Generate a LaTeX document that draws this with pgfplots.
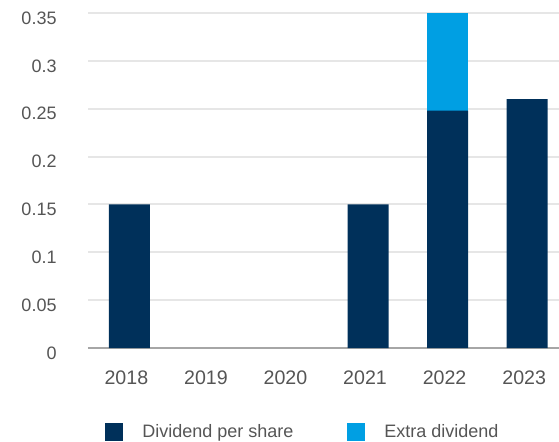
\documentclass[border=0pt]{standalone}
\usepackage{fontspec}
\setmainfont{Liberation Sans}
\usepackage{pgfplots}
\pgfplotsset{compat=1.18}
\definecolor{navy}{HTML}{00305A}
\definecolor{sky}{HTML}{009FE3}
\definecolor{txt}{HTML}{555555}
\definecolor{gridc}{HTML}{E6E6E6}
\definecolor{axc}{HTML}{A6A6A6}
\begin{document}
\begin{tikzpicture}
\begin{axis}[
  at={(0,0)}, anchor=south west,
  scale only axis, width=235.5pt, height=167.5pt,
  ybar stacked, bar width=20.5pt,
  xmin=-0.52, xmax=5.4, ymin=0, ymax=0.35,
  xtick=data, xticklabels={2018,2019,2020,2021,2022,2023},
  ytick={0,0.05,0.1,0.15,0.2,0.25,0.3,0.35},
  yticklabel style={/pgf/number format/fixed, /pgf/number format/precision=2},
  /pgf/number format/assume math mode=true,
  major tick length=0pt,
  axis x line=bottom, axis y line=left,
  y axis line style={draw=none},
  x axis line style={draw=axc, line width=0.8pt, -},
  ymajorgrids, grid style={draw=gridc, line width=1pt},
  tick label style={font=\fontsize{9}{11}\selectfont, text=txt},
  xticklabel style={anchor=center, yshift=-15pt, xshift=-1.5pt, font=\fontsize{9.8}{11}\selectfont},
  yticklabel style={anchor=east, xshift=-12.2pt, yshift=-2.5pt},
  clip=false,
  legend columns=2,
  legend style={at={(0.036,-0.2507)}, anchor=west, draw=none, fill=none, inner sep=0pt,
    font=\fontsize{9}{11}\selectfont, text=txt,
    /tikz/every even column/.append style={column sep=25pt}},
  legend image code/.code={\fill[#1] (0pt,-4.5pt) rectangle (9pt,4.5pt);},
]
\addplot+[draw=none, fill=navy] coordinates {(0,0.15) (1,0) (2,0) (3,0.15) (4,0.248) (5,0.26)};
\addlegendentry{\hspace{7.5pt}Dividend per share}
\addplot+[draw=none, fill=sky] coordinates {(0,0) (1,0) (2,0) (3,0) (4,0.102) (5,0)};
\addlegendentry{\hspace{7.5pt}Extra dividend}
\end{axis}
\pgfresetboundingbox
\useasboundingbox (-44pt,-46.5pt) rectangle (235.5pt,174pt);
\end{tikzpicture}
\end{document}
